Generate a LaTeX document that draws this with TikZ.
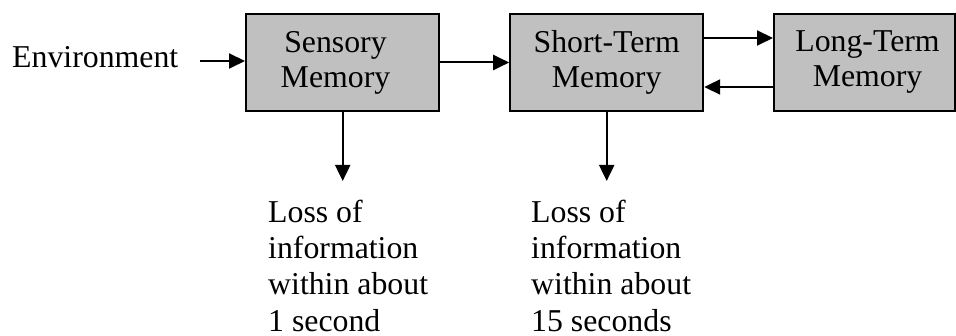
\documentclass[tikz,border=0pt]{standalone}
\usepackage{fontspec}
\setmainfont{Liberation Serif}
\usetikzlibrary{arrows.meta}
\definecolor{boxgray}{RGB}{192,192,192}
\tikzset{
  memorybox/.style={draw=black, fill=boxgray, line width=2pt, minimum width=193pt, minimum height=97pt, inner sep=0pt},
  boxtext/.style={inner sep=0pt, align=center, font=\fontsize{31.8}{35}\selectfont},
  plaintext/.style={inner sep=0pt, align=left, text depth=0pt, font=\fontsize{31.8}{36.4}\selectfont},
  arr/.style={line width=2pt, -{Triangle[length=16pt,width=15pt]}}
}
\begin{document}
\begin{tikzpicture}[x=1pt,y=-1pt]
\useasboundingbox (0,0) rectangle (956,336);
\node[memorybox, label={[boxtext, xshift=-7pt]center:Sensory\\Memory}] (sens) at (342.5,62.5) {};
\node[memorybox, label={[boxtext]center:Short-Term\\Memory}] (stm) at (606.7,62.5) {};
\node[memorybox, minimum width=181pt, label={[boxtext, xshift=3pt]center:Long-Term\\Memory}] (ltm) at (864.5,62.5) {};
\node[plaintext, anchor=base west] (env) at (12,68) {Environment};
\coordinate (envout) at (200,61);
\draw[arr] (envout) -- (envout -| sens.west);
\draw[arr] (sens.east) -- (stm.west);
\draw[arr] ([yshift=24.5pt]stm.east) -- ([yshift=24.5pt]ltm.west);
\draw[arr] ([yshift=-24.5pt]ltm.west) -- ([yshift=-24.5pt]stm.east);
\coordinate (sensdown) at (342.7,181);
\coordinate (stmdown) at (606.7,181);
\draw[arr] (sens.south -| sensdown) -- (sensdown);
\draw[arr] (stm.south -| stmdown) -- (stmdown);
\node[plaintext, anchor=north west] (loss1) at (268,199.5) {Loss of\\information\\within about\\1 second};
\node[plaintext, anchor=north west] (loss2) at (531,199.5) {Loss of\\information\\within about\\15 seconds};
\end{tikzpicture}
\end{document}
